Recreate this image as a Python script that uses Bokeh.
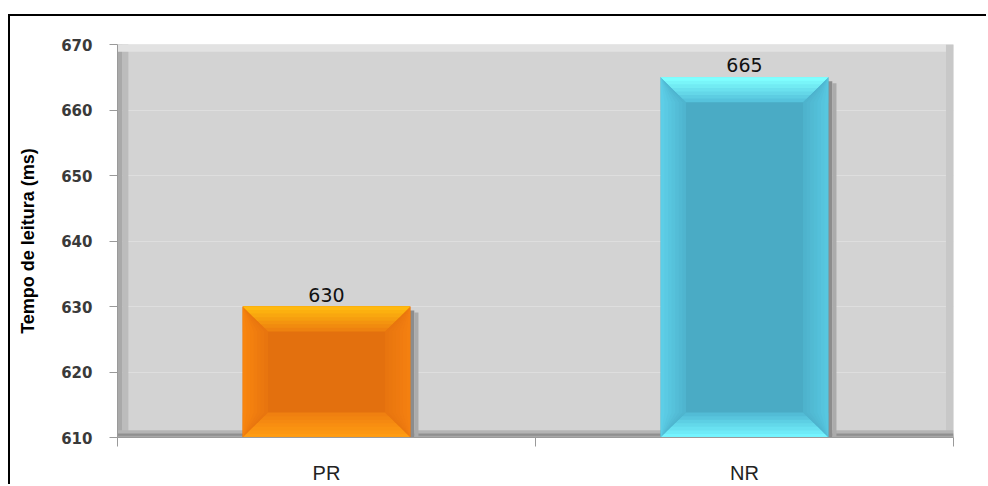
from bokeh.plotting import figure
from bokeh.models import Range1d, FixedTicker, BoxAnnotation
from bokeh.core.properties import value
from bokeh.embed import file_html
from bokeh.resources import INLINE

categories = ["PR", "NR"]
values = [630, 665]
y_ticks = [610, 620, 630, 640, 650, 660, 670]
y_title = "Tempo de leitura (ms)"

face = ["#e3700e", "#4aabc5"]
top_in = ["#ee820f", "#56c3dc"]
top_out = ["#ffb90f", "#80ffff"]
bot_in = ["#f08010", "#52bcd6"]
bot_out = ["#ff9c12", "#74f4ff"]
left_in = ["#e8750f", "#4fb5cf"]
left_out = ["#f8850f", "#5dcee7"]
right_in = ["#e8750f", "#4eb3cd"]
right_out = ["#f48010", "#57c7e0"]

Y0 = 610
xc = [i + 0.5 for i in range(len(categories))]
half = 0.2


def lerp(c1, c2, t):
    a = [int(c1[i:i + 2], 16) for i in (1, 3, 5)]
    b = [int(c2[i:i + 2], 16) for i in (1, 3, 5)]
    return "#%02x%02x%02x" % tuple(round(a[j] + (b[j] - a[j]) * t) for j in range(3))


p = figure(width=978, height=470, output_backend="svg", toolbar_location=None,
           x_range=Range1d(0, 2), y_range=Range1d(610, 670),
           min_border_left=107, min_border_right=35, min_border_top=28, min_border_bottom=49)
p.styles = {"margin-left": "8px", "margin-top": "14px",
            "border-left": "2px solid black", "border-top": "2px solid black"}
p.background_fill_color = "#d3d3d3"
p.border_fill_color = "white"
p.outline_line_color = None

# wall bevels
p.add_layout(BoxAnnotation(left=0, right=0.012, fill_color="#a9a9a9", fill_alpha=1, line_color=None, level="underlay"))
p.add_layout(BoxAnnotation(left=0.012, right=0.026, fill_color="#bcbcbc", fill_alpha=1, line_color=None, level="underlay"))
p.add_layout(BoxAnnotation(bottom=668.9, fill_color="#e2e2e2", fill_alpha=1, line_color=None, level="underlay"))
p.add_layout(BoxAnnotation(left=1.982, fill_color="#c8c8c8", fill_alpha=1, line_color=None, level="underlay"))
p.add_layout(BoxAnnotation(top=611.1, fill_color="#b4b4b4", fill_alpha=1, line_color=None, level="underlay"))
p.add_layout(BoxAnnotation(top=610.6, fill_color="#8f8f8f", fill_alpha=1, line_color=None, level="underlay"))
p.add_layout(BoxAnnotation(top=610.25, fill_color="#a8a8a8", fill_alpha=1, line_color=None, level="underlay"))

p.ygrid.grid_line_color = "#dedede"
p.ygrid.grid_line_width = 1
p.xgrid.grid_line_color = None

# shadows
sh_l = [x + half for x in xc]
p.quad(left=sh_l, right=[x + 0.01 for x in sh_l], top=[v - 0.6 for v in values], bottom=Y0,
       fill_color="#8c8c8c", line_color=None)
p.quad(left=[x + 0.01 for x in sh_l], right=[x + 0.02 for x in sh_l], top=[v - 0.9 for v in values], bottom=Y0,
       fill_color="#ababab", line_color=None)

# bars
p.vbar(x=xc, top=values, bottom=Y0, width=2 * half, fill_color=face, line_color=None)

bx = 0.06
by = 3.8
n = 7
for i, (x, v) in enumerate(zip(xc, values)):
    x0, x1 = x - half, x + half
    for k in range(n):
        d = 1 - k / n
        t = k / (n - 1)
        p.patch([x0, x0 + bx * d, x0 + bx * d, x0], [Y0, Y0 + by, v - by, v],
                fill_color=lerp(left_in[i], left_out[i], t), line_color=None)
        p.patch([x1, x1 - bx * d, x1 - bx * d, x1], [Y0, Y0 + by, v - by, v],
                fill_color=lerp(right_in[i], right_out[i], t), line_color=None)
    for k in range(n):
        d = 1 - k / n
        t = k / (n - 1)
        p.patch([x0, x1, x1 - bx * d, x0 + bx * d], [Y0, Y0, Y0 + by * d, Y0 + by * d],
                fill_color=lerp(bot_in[i], bot_out[i], t), line_color=None)
        p.patch([x0, x1, x1 - bx * d, x0 + bx * d], [v, v, v - by * d, v - by * d],
                fill_color=lerp(top_in[i], top_out[i], t), line_color=None)

p.text(x=xc, y=values, text=[str(v) for v in values], text_align="center", text_baseline="bottom",
       y_offset=-5, text_font=value("DejaVu Sans"), text_font_size="19px", text_color="#111111")

# axes
p.yaxis.ticker = FixedTicker(ticks=y_ticks)
p.yaxis.axis_label = y_title
p.yaxis.axis_label_text_font = "Liberation Sans"
p.yaxis.axis_label_text_font_style = "bold"
p.yaxis.axis_label_text_font_size = "18px"
p.yaxis.axis_label_text_color = "#000000"
p.yaxis.axis_label_standoff = 20
p.yaxis.major_label_text_font = "DejaVu Sans"
p.yaxis.major_label_text_font_size = "15px"
p.yaxis.major_label_text_font_style = "bold"
p.yaxis.major_label_text_color = "#3a3a3a"
p.yaxis.major_label_standoff = 17
p.yaxis.major_tick_out = 8
p.yaxis.major_tick_in = 0
p.yaxis.minor_tick_line_color = None
p.yaxis.axis_line_color = "#9a9a9a"
p.yaxis.major_tick_line_color = "#9a9a9a"

p.xaxis.ticker = FixedTicker(ticks=xc, minor_ticks=[0, 1, 2])
p.xaxis.major_label_overrides = {x: c for x, c in zip(xc, categories)}
p.xaxis.major_tick_line_color = None
p.xaxis.major_tick_out = 0
p.xaxis.major_tick_in = 0
p.xaxis.minor_tick_out = 9
p.xaxis.minor_tick_in = 0
p.xaxis.minor_tick_line_color = "#9a9a9a"
p.xaxis.axis_line_color = "#9a9a9a"
p.xaxis.major_label_standoff = 15
p.xaxis.major_label_text_font = "Liberation Sans"
p.xaxis.major_label_text_font_size = "20px"
p.xaxis.major_label_text_color = "#222222"

open("out.html", "w").write(file_html(p, INLINE))
